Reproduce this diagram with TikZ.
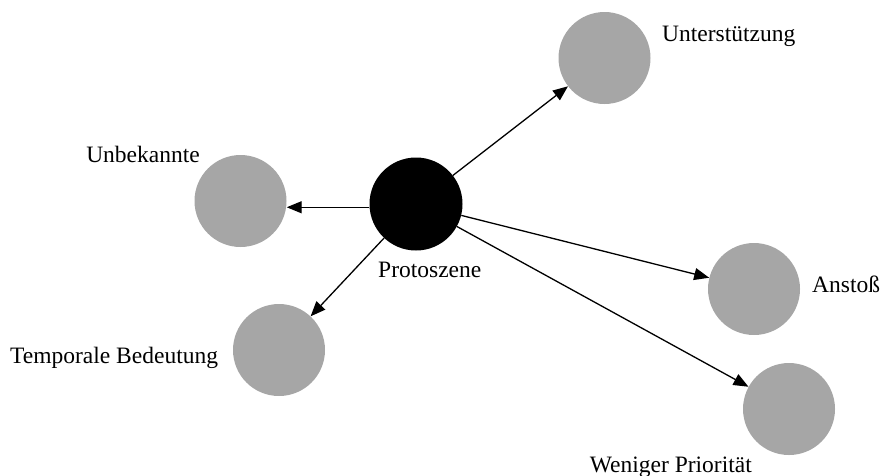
\documentclass[tikz,border=0pt]{standalone}
\usepackage{fontspec}
\setmainfont{Liberation Serif}
\usetikzlibrary{arrows.meta}
\definecolor{nodegrey}{RGB}{166,166,166}
\tikzset{
  bubble/.style={circle,fill=nodegrey,draw=none,minimum size=92pt,inner sep=0pt},
  core/.style={circle,fill=black,draw=none,minimum size=93pt,inner sep=0pt},
  lbl/.style={inner sep=0pt,font=\fontsize{23.5pt}{28pt}\selectfont},
  link/.style={line width=1.3pt,-{Triangle[length=15pt,width=12pt]}}
}
\begin{document}
\begin{tikzpicture}[x=1pt,y=-1pt]
\useasboundingbox (0,0) rectangle (882,475);
\node[core] (P) at (416,204) {};
\node[bubble] (S) at (604.5,58) {};
\node[bubble] (U) at (240.5,201) {};
\node[bubble] (T) at (279,350) {};
\node[bubble] (A) at (754,289) {};
\node[bubble] (W) at (789,409) {};
\node[lbl,anchor=base west] (lS) at (662,41) {Unterstützung};
\node[lbl,anchor=base east] (lU) at (200,162) {Unbekannte};
\node[lbl,anchor=base west] (lP) at (378,277) {Protoszene};
\node[lbl,anchor=base west] (lA) at (812,292) {Anstoß};
\node[lbl,anchor=base west] (lT) at (10,363) {Temporale Bedeutung};
\node[lbl,anchor=base east] (lW) at (752,472) {Weniger Priorität};
\draw[link] (P) -- (S);
\draw[link] (P.184) -- (P.184 -| U.east);
\draw[link] (P) -- (T);
\draw[link] (P) -- (A);
\draw[link] (P) -- (W);
\end{tikzpicture}
\end{document}
